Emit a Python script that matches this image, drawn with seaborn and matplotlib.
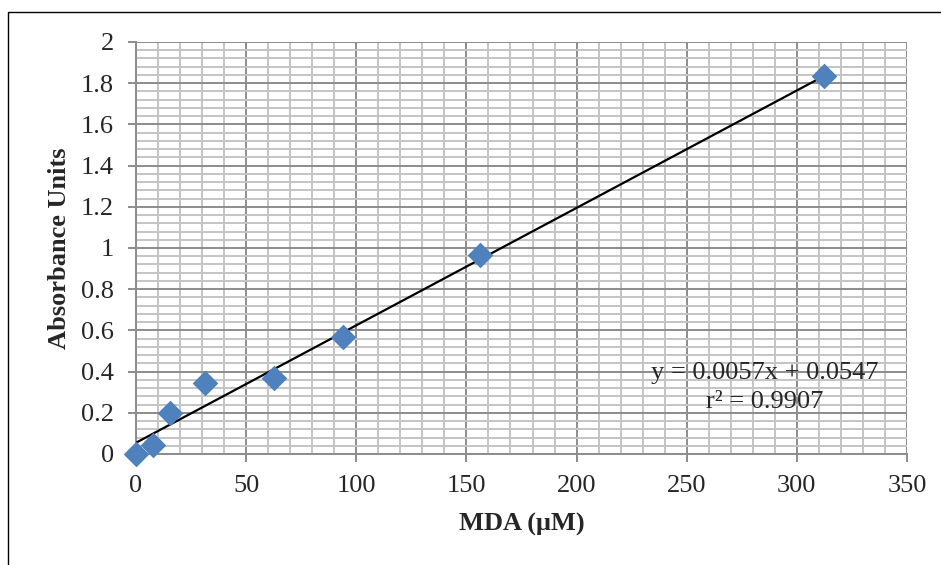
import numpy as np
import pandas as pd
import matplotlib
matplotlib.use("Agg")
import matplotlib.pyplot as plt
import seaborn as sns
from matplotlib.ticker import MultipleLocator
from matplotlib.patches import Rectangle

# Standard curve data
mda_um = [0, 7.8, 15.6, 31.25, 62.5, 93.75, 156.25, 312.5]
absorbance = [0.0, 0.044, 0.199, 0.345, 0.368, 0.568, 0.966, 1.833]

# Trendline shown on chart
slope = 0.0057
intercept = 0.0547
r_squared = 0.9907

sns.set_theme(style="white")
plt.rcParams['font.family'] = ['Liberation Serif', 'DejaVu Serif']

df = pd.DataFrame({"MDA": mda_um, "Absorbance": absorbance})

fig = plt.figure(figsize=(9.41, 5.65), dpi=100)
ax = fig.add_axes([136 / 941, 1 - 454 / 565, 771 / 941, 412 / 565])

# outer chart border (Excel chart area)
fig.patches.append(Rectangle((8 / 941, -0.05), 1.2, 1 - 12 / 565 + 0.05,
                             transform=fig.transFigure, fill=False,
                             edgecolor='black', linewidth=1.0))

ax.set_xlim(0, 350)
ax.set_ylim(0, 2)
ax.xaxis.set_major_locator(MultipleLocator(50))
ax.xaxis.set_minor_locator(MultipleLocator(10))
ax.yaxis.set_major_locator(MultipleLocator(0.2))
ax.yaxis.set_minor_locator(MultipleLocator(0.04))
ax.grid(which='minor', color='#c4c4c4', linewidth=1.4)
ax.grid(which='major', color='#8c8c8c', linewidth=1.4)
ax.set_axisbelow(True)

for side in ['top', 'right']:
    ax.spines[side].set_visible(False)
for side in ['left', 'bottom']:
    ax.spines[side].set_color('#8c8c8c')
    ax.spines[side].set_linewidth(1.4)

ax.tick_params(which='major', direction='out', length=6, width=1.4,
               color='#8c8c8c', labelsize=19, bottom=True, left=True)
ax.tick_params(axis='x', which='major', pad=9)
ax.tick_params(axis='y', which='major', pad=10)
ax.tick_params(which='minor', length=0)

ax.set_yticks(np.arange(0, 2.01, 0.2))
ax.set_yticklabels(['0', '0.2', '0.4', '0.6', '0.8', '1', '1.2', '1.4', '1.6', '1.8', '2'])

# trendline
xs = np.array([min(mda_um), max(mda_um)])
ax.plot(xs, slope * xs + intercept, color='black', linewidth=1.6, zorder=3)

sns.scatterplot(data=df, x="MDA", y="Absorbance", ax=ax, marker='D', s=170,
                color='#4F81BD', edgecolor='#4F81BD', linewidth=0, zorder=4,
                clip_on=False)

ax.text(0.816, 0.197, f"y = {slope}x + {intercept}", transform=ax.transAxes,
        ha='center', va='center', fontsize=19)
ax.text(0.815, 0.126, f"r² = {r_squared}", transform=ax.transAxes,
        ha='center', va='center', fontsize=19)

ax.set_xlabel("MDA (μM)", fontsize=19, fontweight='bold')
ax.set_ylabel("Absorbance Units", fontsize=19, fontweight='bold')
ax.xaxis.set_label_coords(0.5, (454 - 524) / 412)
ax.xaxis.label.set_va('center')
ax.yaxis.set_label_coords((60 - 136) / 771, 0.5)
ax.yaxis.label.set_va('center')

fig.savefig("out.png", dpi=100)
